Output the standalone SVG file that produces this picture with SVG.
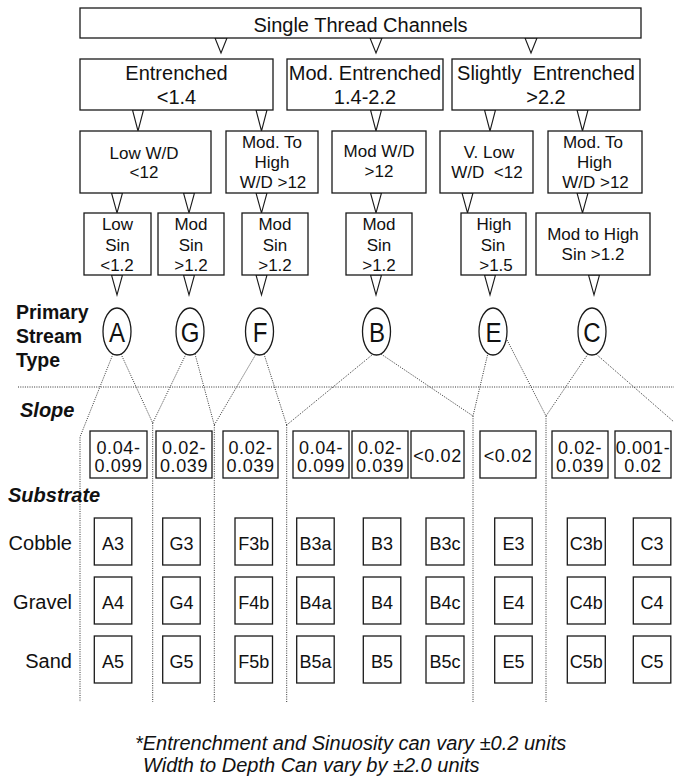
<svg xmlns="http://www.w3.org/2000/svg" width="674" height="777" viewBox="0 0 674 777">
<style>
.box{fill:#fff;stroke:#1a1a1a;stroke-width:1.3}
.tri{fill:#fff;stroke:#1a1a1a;stroke-width:1.1;stroke-linejoin:miter}
.dot{fill:none;stroke:#333;stroke-width:1;stroke-dasharray:1 1.3}
text{font-family:"Liberation Sans",Arial,Helvetica,sans-serif;fill:#111}
.t20{font-size:20px;text-anchor:middle}
.t17{font-size:17px;text-anchor:middle}
.t18{font-size:18px;text-anchor:middle}
.sl{font-size:18px;text-anchor:middle;letter-spacing:0.6px}
.let{font-size:28px;text-anchor:middle}
.bl{font-size:19.5px;font-weight:bold}
.bi{font-size:20px;font-weight:bold;font-style:italic}
.row{font-size:20px;text-anchor:end}
.note{font-size:20px;font-style:italic}
</style>
<g id="connectors">
<g id="triangles">
<polygon class="tri" points="215,38 227,38 221,53"/>
<polygon class="tri" points="370,38 382,38 376,53"/>
<polygon class="tri" points="525,38 537,38 531,53"/>
<polygon class="tri" points="132.5,110 143.5,110 138,131"/>
<polygon class="tri" points="256,110 267,110 261.5,131"/>
<polygon class="tri" points="370.5,110 381.5,110 376,131"/>
<polygon class="tri" points="484.5,110 495.5,110 490,131"/>
<polygon class="tri" points="577,110 588,110 582.5,131"/>
<polygon class="tri" points="111.5,193 122.5,193 117,213"/>
<polygon class="tri" points="183.5,193 194.5,193 189,213"/>
<polygon class="tri" points="256,193 267,193 261.5,213"/>
<polygon class="tri" points="370.5,193 381.5,193 376,213"/>
<polygon class="tri" points="462,193 473,193 467.5,213"/>
<polygon class="tri" points="577,193 588,193 582.5,213"/>
<polygon class="tri" points="111.5,275 122.5,275 117,295"/>
<polygon class="tri" points="183.5,275 194.5,275 189,295"/>
<polygon class="tri" points="256,275 267,275 261.5,295"/>
<polygon class="tri" points="370.5,275 381.5,275 376,295"/>
<polygon class="tri" points="484.5,275 495.5,275 490,295"/>
<polygon class="tri" points="588.5,275 599.5,275 594,295"/>
</g>
<g id="dotted">
<line class="dot" x1="18" y1="387" x2="674" y2="387"/>
<polyline class="dot" points="113,354 80,437 80,702"/>
<polyline class="dot" points="121,354 152.7,423 186,354"/>
<line class="dot" x1="152.7" y1="423" x2="152.7" y2="702"/>
<polyline class="dot" points="195,354 214.3,425 256,354"/>
<line class="dot" x1="214.3" y1="425" x2="214.3" y2="702"/>
<polyline class="dot" points="264,354 286.7,425 372,355"/>
<line class="dot" x1="286.7" y1="425" x2="286.7" y2="702"/>
<polyline class="dot" points="381,354 473,416 488,353"/>
<line class="dot" x1="473" y1="416" x2="473" y2="702"/>
<polyline class="dot" points="505,336 546,416 588,354"/>
<line class="dot" x1="546" y1="416" x2="546" y2="702"/>
<line class="dot" x1="596" y1="354" x2="674" y2="422"/>
</g>
</g>
<g id="n-single"><rect class="box" x="80" y="8" width="561" height="30"/><text class="t20" x="360.5" y="31.5">Single Thread Channels</text></g>
<g id="n-entrenched"><rect class="box" x="80" y="59" width="193" height="51"/><text class="t20" x="176.5" y="80">Entrenched</text><text class="t20" x="176.5" y="104">&lt;1.4</text></g>
<g id="n-modent"><rect class="box" x="287" y="59" width="156" height="51"/><text class="t20" x="365" y="80">Mod. Entrenched</text><text class="t20" x="365" y="104">1.4-2.2</text></g>
<g id="n-slight"><rect class="box" x="452" y="59" width="188" height="51"/><text class="t20" x="546" y="80" xml:space="preserve">Slightly  Entrenched</text><text class="t20" x="546" y="104">&gt;2.2</text></g>
<g id="n-lowwd"><rect class="box" x="80" y="131" width="131" height="62"/><text class="t17" x="144" y="159.3">Low W/D</text><text class="t17" x="144" y="178.3">&lt;12</text></g>
<g id="n-modhigh1"><rect class="box" x="226" y="131" width="92" height="62"/><text class="t17" x="272" y="147.7">Mod. To</text><text class="t17" x="272" y="168.3">High</text><text class="t17" x="273" y="188.3">W/D &gt;12</text></g>
<g id="n-modwd"><rect class="box" x="332" y="131" width="94" height="62"/><text class="t17" x="379" y="157.3">Mod W/D</text><text class="t17" x="379" y="177.3">&gt;12</text></g>
<g id="n-vlow"><rect class="box" x="440" y="131" width="93" height="62"/><text class="t17" x="489" y="158.3">V. Low</text><text class="t17" x="487" y="178.3" xml:space="preserve">W/D  &lt;12</text></g>
<g id="n-modhigh2"><rect class="box" x="548" y="131" width="94" height="62"/><text class="t17" x="593" y="147.7">Mod. To</text><text class="t17" x="594.5" y="168.3">High</text><text class="t17" x="595.5" y="188.3">W/D &gt;12</text></g>
<g id="n-lowsin"><rect class="box" x="84" y="213" width="67" height="62"/><text class="t17" x="117.5" y="230">Low</text><text class="t17" x="117.5" y="250.7">Sin</text><text class="t17" x="117" y="270.7">&lt;1.2</text></g>
<g id="n-modsin1"><rect class="box" x="158" y="213" width="66" height="62"/><text class="t17" x="191" y="230">Mod</text><text class="t17" x="191" y="250.7">Sin</text><text class="t17" x="191" y="270.7">&gt;1.2</text></g>
<g id="n-modsin2"><rect class="box" x="242" y="213" width="66" height="62"/><text class="t17" x="275" y="230">Mod</text><text class="t17" x="275" y="250.7">Sin</text><text class="t17" x="275" y="270.7">&gt;1.2</text></g>
<g id="n-modsin3"><rect class="box" x="346" y="213" width="66" height="62"/><text class="t17" x="379" y="230">Mod</text><text class="t17" x="379" y="250.7">Sin</text><text class="t17" x="379" y="270.7">&gt;1.2</text></g>
<g id="n-highsin"><rect class="box" x="461" y="213" width="65" height="62"/><text class="t17" x="494" y="230">High</text><text class="t17" x="493" y="250.7">Sin</text><text class="t17" x="496" y="270.7">&gt;1.5</text></g>
<g id="n-modhighsin"><rect class="box" x="536" y="213" width="114" height="62"/><text class="t17" x="593" y="240">Mod to High</text><text class="t17" x="593" y="260">Sin &gt;1.2</text></g>
<g id="n-A"><ellipse class="box" cx="117" cy="331.5" rx="14" ry="23.5"/><text class="let" transform="translate(117,341.5) scale(0.86,1)">A</text></g>
<g id="n-G"><ellipse class="box" cx="190" cy="331.5" rx="14" ry="23.5"/><text class="let" transform="translate(190,341.5) scale(0.86,1)">G</text></g>
<g id="n-F"><ellipse class="box" cx="259.5" cy="331.5" rx="14" ry="23.5"/><text class="let" transform="translate(260,341.5) scale(0.86,1)">F</text></g>
<g id="n-B"><ellipse class="box" cx="376.5" cy="331.5" rx="14" ry="23.5"/><text class="let" transform="translate(377,341.5) scale(0.86,1)">B</text></g>
<g id="n-E"><ellipse class="box" cx="493" cy="331.5" rx="14" ry="23.5"/><text class="let" transform="translate(493.5,341.5) scale(0.86,1)">E</text></g>
<g id="n-C"><ellipse class="box" cx="592" cy="331.5" rx="14" ry="23.5"/><text class="let" transform="translate(592,341.5) scale(0.86,1)">C</text></g>
<g id="labels">
<text class="bl" x="16" y="319">Primary</text>
<text class="bl" x="16" y="343">Stream</text>
<text class="bl" x="16" y="367">Type</text>
<text class="bi" x="20" y="417">Slope</text>
<text class="bi" x="8" y="502">Substrate</text>
<text class="row" x="72" y="549.5">Cobble</text>
<text class="row" x="72" y="608.5">Gravel</text>
<text class="row" x="72" y="667.5">Sand</text>
</g>
<g id="slopes">
<g id="s-A"><rect class="box" x="90" y="431" width="57" height="47"/><text class="sl" x="118.5" y="453.5">0.04-</text><text class="sl" x="118.5" y="472">0.099</text></g>
<g id="s-G"><rect class="box" x="156" y="431" width="56" height="47"/><text class="sl" x="184" y="453.5">0.02-</text><text class="sl" x="184" y="472">0.039</text></g>
<g id="s-F"><rect class="box" x="223" y="431" width="55" height="47"/><text class="sl" x="250.5" y="453.5">0.02-</text><text class="sl" x="250.5" y="472">0.039</text></g>
<g id="s-B1"><rect class="box" x="293" y="431" width="56" height="47"/><text class="sl" x="321" y="453.5">0.04-</text><text class="sl" x="321" y="472">0.099</text></g>
<g id="s-B2"><rect class="box" x="352" y="431" width="56" height="47"/><text class="sl" x="380" y="453.5">0.02-</text><text class="sl" x="380" y="472">0.039</text></g>
<g id="s-B3"><rect class="box" x="411" y="431" width="53" height="47"/><text class="sl" x="437.5" y="462">&lt;0.02</text></g>
<g id="s-E"><rect class="box" x="480" y="431" width="56" height="47"/><text class="sl" x="508" y="462">&lt;0.02</text></g>
<g id="s-C1"><rect class="box" x="552" y="431" width="56" height="47"/><text class="sl" x="580" y="453.5">0.02-</text><text class="sl" x="580" y="472">0.039</text></g>
<g id="s-C2"><rect class="box" x="615" y="431" width="56" height="47"/><text class="sl" x="643" y="453.5">0.001-</text><text class="sl" x="643" y="472">0.02</text></g>
</g>
<g id="types">
<g id="t-A3"><rect class="box" x="94.3" y="518" width="37.5" height="47"/><text class="t18" x="113" y="549.5">A3</text></g>
<g id="t-G3"><rect class="box" x="162.7" y="518" width="37.5" height="47"/><text class="t18" x="181.4" y="549.5">G3</text></g>
<g id="t-F3b"><rect class="box" x="235" y="518" width="37.5" height="47"/><text class="t18" x="253.7" y="549.5">F3b</text></g>
<g id="t-B3a"><rect class="box" x="296.7" y="518" width="37.5" height="47"/><text class="t18" x="315.5" y="549.5">B3a</text></g>
<g id="t-B3"><rect class="box" x="363.3" y="518" width="37.5" height="47"/><text class="t18" x="382" y="549.5">B3</text></g>
<g id="t-B3c"><rect class="box" x="426" y="518" width="38" height="47"/><text class="t18" x="445" y="549.5">B3c</text></g>
<g id="t-E3"><rect class="box" x="494.7" y="518" width="37.5" height="47"/><text class="t18" x="513.5" y="549.5">E3</text></g>
<g id="t-C3b"><rect class="box" x="567.3" y="518" width="38" height="47"/><text class="t18" x="586.3" y="549.5">C3b</text></g>
<g id="t-C3"><rect class="box" x="633.3" y="518" width="37.5" height="47"/><text class="t18" x="652" y="549.5">C3</text></g>
<g id="t-A4"><rect class="box" x="94.3" y="577" width="37.5" height="47"/><text class="t18" x="113" y="608.5">A4</text></g>
<g id="t-G4"><rect class="box" x="162.7" y="577" width="37.5" height="47"/><text class="t18" x="181.4" y="608.5">G4</text></g>
<g id="t-F4b"><rect class="box" x="235" y="577" width="37.5" height="47"/><text class="t18" x="253.7" y="608.5">F4b</text></g>
<g id="t-B4a"><rect class="box" x="296.7" y="577" width="37.5" height="47"/><text class="t18" x="315.5" y="608.5">B4a</text></g>
<g id="t-B4"><rect class="box" x="363.3" y="577" width="37.5" height="47"/><text class="t18" x="382" y="608.5">B4</text></g>
<g id="t-B4c"><rect class="box" x="426" y="577" width="38" height="47"/><text class="t18" x="445" y="608.5">B4c</text></g>
<g id="t-E4"><rect class="box" x="494.7" y="577" width="37.5" height="47"/><text class="t18" x="513.5" y="608.5">E4</text></g>
<g id="t-C4b"><rect class="box" x="567.3" y="577" width="38" height="47"/><text class="t18" x="586.3" y="608.5">C4b</text></g>
<g id="t-C4"><rect class="box" x="633.3" y="577" width="37.5" height="47"/><text class="t18" x="652" y="608.5">C4</text></g>
<g id="t-A5"><rect class="box" x="94.3" y="636" width="37.5" height="47"/><text class="t18" x="113" y="667.5">A5</text></g>
<g id="t-G5"><rect class="box" x="162.7" y="636" width="37.5" height="47"/><text class="t18" x="181.4" y="667.5">G5</text></g>
<g id="t-F5b"><rect class="box" x="235" y="636" width="37.5" height="47"/><text class="t18" x="253.7" y="667.5">F5b</text></g>
<g id="t-B5a"><rect class="box" x="296.7" y="636" width="37.5" height="47"/><text class="t18" x="315.5" y="667.5">B5a</text></g>
<g id="t-B5"><rect class="box" x="363.3" y="636" width="37.5" height="47"/><text class="t18" x="382" y="667.5">B5</text></g>
<g id="t-B5c"><rect class="box" x="426" y="636" width="38" height="47"/><text class="t18" x="445" y="667.5">B5c</text></g>
<g id="t-E5"><rect class="box" x="494.7" y="636" width="37.5" height="47"/><text class="t18" x="513.5" y="667.5">E5</text></g>
<g id="t-C5b"><rect class="box" x="567.3" y="636" width="38" height="47"/><text class="t18" x="586.3" y="667.5">C5b</text></g>
<g id="t-C5"><rect class="box" x="633.3" y="636" width="37.5" height="47"/><text class="t18" x="652" y="667.5">C5</text></g>
</g>
<g id="footnote">
<text class="note" x="135" y="750">*Entrenchment and Sinuosity can vary ±0.2 units</text>
<text class="note" x="143" y="771.5">Width to Depth Can vary by ±2.0 units</text>
</g>
</svg>
